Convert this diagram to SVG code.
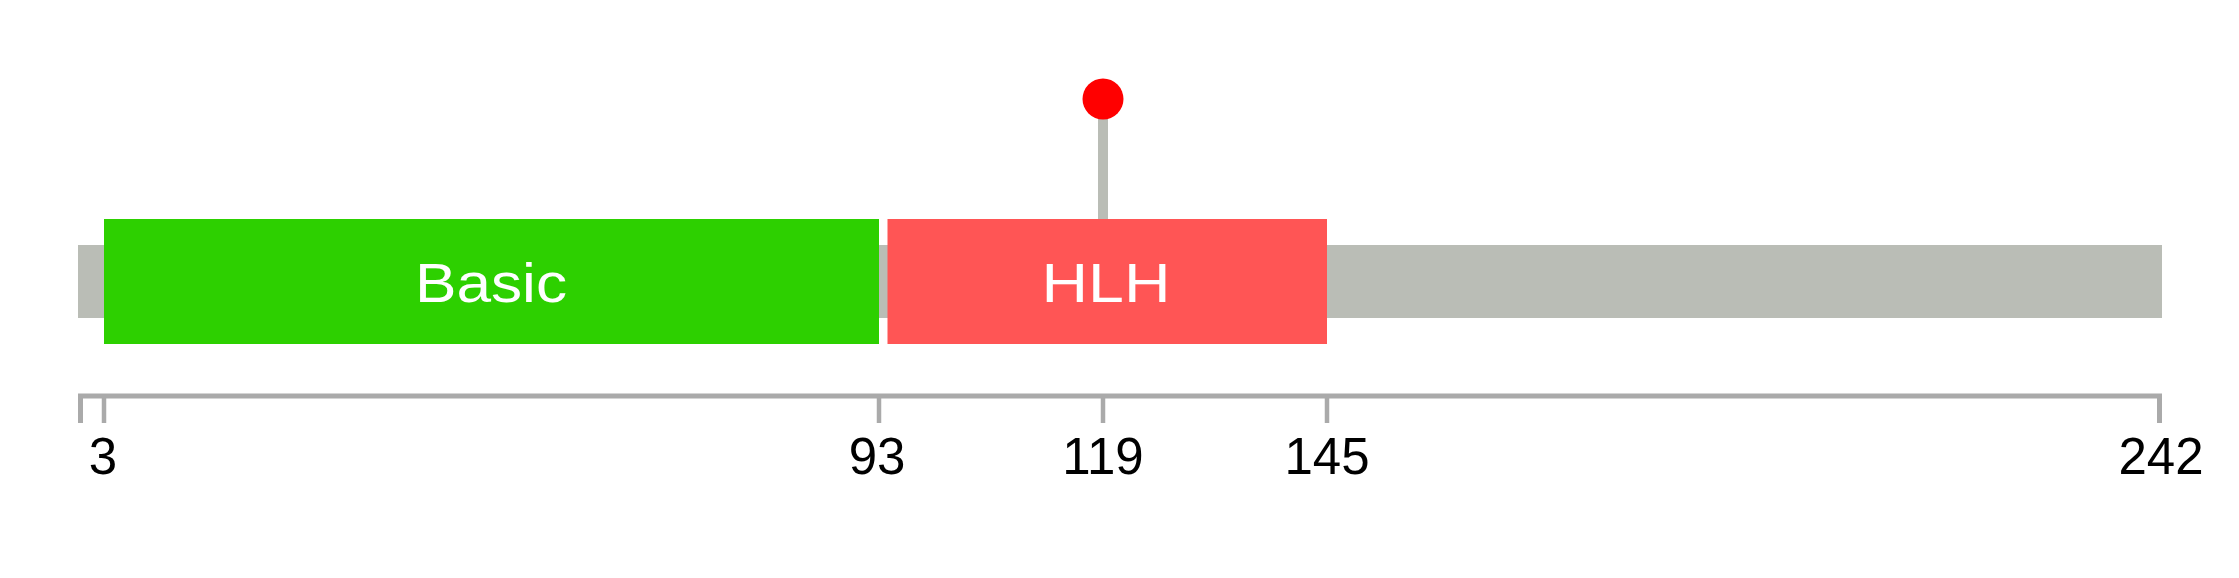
<svg xmlns="http://www.w3.org/2000/svg" width="2239" height="578" viewBox="0 0 2239 578">
<style>
.axis{stroke:#aaaaaa;stroke-width:5;fill:none}
.tick{stroke:#aaaaaa;stroke-width:4.5}
.num{font-family:"Liberation Sans",Arial,sans-serif;font-size:51px;fill:#000;text-anchor:middle}
.dlabel{font-family:"Liberation Sans",Arial,sans-serif;font-size:56px;fill:#fff;text-anchor:middle}
</style>
<rect width="2239" height="578" fill="#fff"/>
<g id="backbone"><rect x="78" y="245" width="2084" height="73" fill="#babdb6"/></g>
<g id="connectors">
<line x1="1103" y1="100" x2="1103" y2="219" stroke="#babdb6" stroke-width="10"/>
</g>
<g id="basic"><rect x="104" y="219" width="775" height="125" fill="#2dd000"/><text class="dlabel" x="491" y="302" textLength="152" lengthAdjust="spacingAndGlyphs">Basic</text></g>
<g id="hlh"><rect x="887.5" y="219" width="439.5" height="125" fill="#ff5555"/><text class="dlabel" x="1106" y="302" textLength="129" lengthAdjust="spacingAndGlyphs">HLH</text></g>
<g id="site"><circle cx="1103" cy="99" r="20.5" fill="#ff0000"/></g>
<g id="axis">
<path class="axis" d="M80.5,423 V396 H2159.5 V423"/>
<line class="tick" x1="104" y1="396" x2="104" y2="423"/>
<line class="tick" x1="879" y1="396" x2="879" y2="423"/>
<line class="tick" x1="1103" y1="396" x2="1103" y2="423"/>
<line class="tick" x1="1327" y1="396" x2="1327" y2="423"/>
<text class="num" x="103" y="474">3</text>
<text class="num" x="877" y="474">93</text>
<text class="num" x="1103" y="474">119</text>
<text class="num" x="1327" y="474">145</text>
<text class="num" x="2161" y="474">242</text>
</g>
</svg>
